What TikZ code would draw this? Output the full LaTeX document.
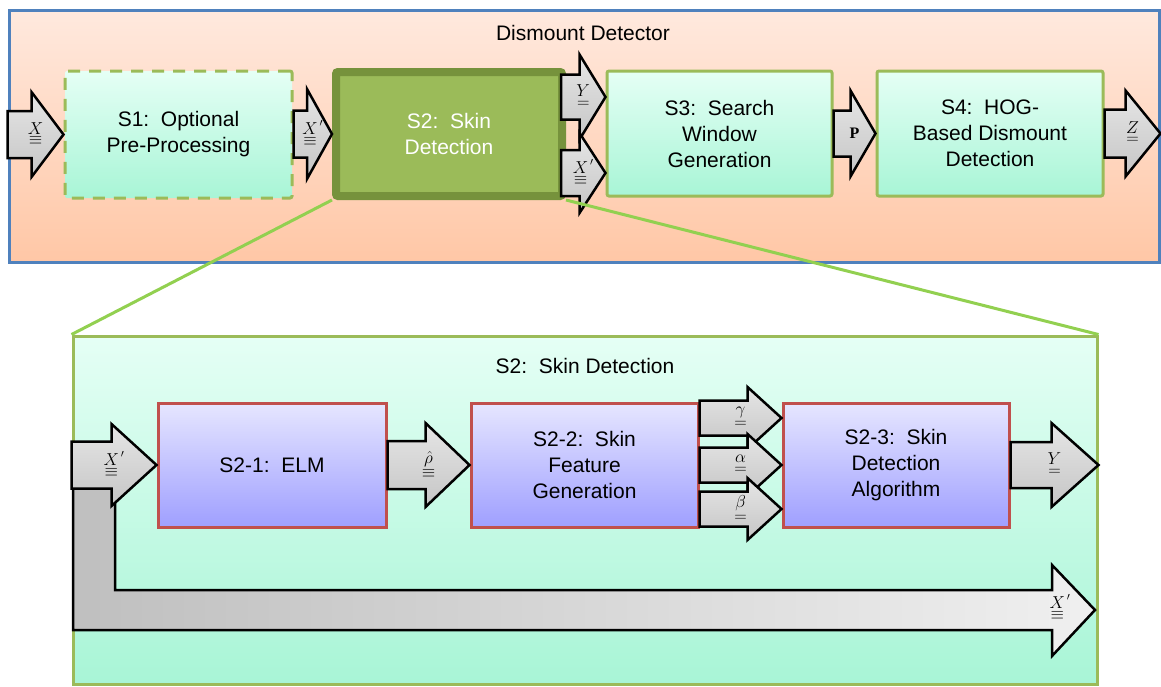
\documentclass[tikz,border=0pt]{standalone}
\usepackage{amsmath}
\usepackage{fontspec}
\setmainfont{Liberation Sans}
\newfontfamily\labelserif{Liberation Serif}
\usetikzlibrary{calc}

\definecolor{frameblue}{HTML}{4F81BD}
\definecolor{peachtop}{HTML}{FFE9DE}
\definecolor{peachbot}{HTML}{FFC7A6}
\definecolor{minttop}{HTML}{E5FFF5}
\definecolor{mintbot}{HTML}{A8F5D6}
\definecolor{stagegreen}{HTML}{9BBB59}
\definecolor{stageolive}{HTML}{76923C}
\definecolor{zoomgreen}{HTML}{92D050}
\definecolor{lavtop}{HTML}{E6E6FF}
\definecolor{lavbot}{HTML}{9F9FFF}
\definecolor{stagered}{HTML}{C0504D}

\newcommand{\tthree}[1]{\underset{\textstyle\equiv}{#1}}
\newcommand{\ttwo}[1]{\underset{\textstyle=}{#1}}
\newcommand{\xprime}{{\tthree{X}}^{\,\prime}}

\tikzstyle{frame}=[draw=frameblue, line width=3pt, top color=peachtop, bottom color=peachbot, inner sep=0pt]
\tikzstyle{panel}=[draw=stagegreen, line width=3pt, top color=minttop, bottom color=mintbot, inner sep=0pt]
\tikzstyle{title}=[font=\fontsize{21}{26}\selectfont, inner sep=0pt]
\tikzstyle{stage}=[%
	draw=stagegreen, line width=3pt, rounded corners=2pt,
	top color=minttop, bottom color=mintbot,
	align=center, inner sep=0pt, font=\fontsize{21}{26}\selectfont
]
\tikzstyle{skinstage}=[stage, draw=stageolive, line width=8pt, top color=stagegreen, bottom color=stagegreen, text=white]
\tikzstyle{substage}=[stage, draw=stagered, rounded corners=0pt, top color=lavtop, bottom color=lavbot]
\tikzstyle{barrow}=[draw=black, line width=2.5pt, top color=gray!20, bottom color=gray!45]
\tikzstyle{lshape}=[draw=black, line width=2.5pt, left color=gray!50, right color=gray!12]
\tikzstyle{arrlabel}=[font=\fontsize{16}{18}\selectfont, inner sep=0pt]
\tikzstyle{zoomline}=[draw=zoomgreen, line width=3pt]

% #1 start, #2 tip, #3 body half, #4 head half, #5 head length, #6 label
\newcommand{\blockarrow}[6]{%
	\draw[barrow] let \p1=(#1), \p2=(#2) in
		(\x1,\y2+#3pt) -- (\x2-#5pt,\y2+#3pt) -- (\x2-#5pt,\y2+#4pt) -- (\x2,\y2)
		-- (\x2-#5pt,\y2-#4pt) -- (\x2-#5pt,\y2-#3pt) -- (\x1,\y2-#3pt) -- cycle
		node[arrlabel] at (\x1/2+\x2/2,\y2) {#6};
}

\begin{document}
\begin{tikzpicture}[x=1pt, y=-1pt]
	\useasboundingbox (0,0) rectangle (1161,686);

	% Dismount detector
	\node[frame, minimum width=1150pt, minimum height=252pt] (detector) at (584,136) {};
	\node[title] (dettitle) at (583,33) {Dismount Detector};

	\node[stage, dash pattern=on 12pt off 9pt, minimum width=227pt, minimum height=127pt] (s1) at (178.5,134.5) {S1:\ \ Optional\\Pre-Processing};
	\node[skinstage, minimum width=226pt, minimum height=124pt] (s2) at (449,134) {S2:\ \ Skin\\Detection};
	\node[stage, minimum width=225pt, minimum height=125pt] (s3) at (719.5,133.5) {S3:\ \ Search\\Window\\Generation};
	\node[stage, minimum width=226pt, minimum height=125pt] (s4) at (990,133.5) {S4:\ \ HOG-\\Based Dismount\\Detection};

	\blockarrow{detector.west}{s1.west}{23.5}{42.5}{32}{$\tthree{X}$}
	\blockarrow{s1.east}{s2.west}{23.5}{45}{25}{$\xprime$}
	\blockarrow{[xshift=-5pt]s2.east}{[yshift=36.5pt]s3.west}{22.5}{42.5}{26}{$\ttwo{Y}$}
	\blockarrow{[xshift=-5pt]s2.east}{[yshift=-39.5pt]s3.west}{23}{40}{26}{$\xprime$}
	\blockarrow{s3.east}{s4.west}{23}{43}{25}{{\labelserif\bfseries P}}
	\blockarrow{s4.east}{s4.east -| detector.east}{24}{43}{35}{$\ttwo{Z}$}

	% Skin detection
	\node[panel, minimum width=1024pt, minimum height=348pt] (skin) at (585,510) {};
	\node[title] (skintitle) at (585,366) {S2:\ \ Skin Detection};

	\draw[zoomline] (s2.south west) -- (skin.north west);
	\draw[zoomline] (s2.south east) -- (skin.north east);

	\node[substage, minimum width=228pt, minimum height=124pt] (elm) at (272,465) {S2-1:\ \ ELM};
	\node[substage, minimum width=227pt, minimum height=124pt] (feat) at (584.5,465) {S2-2:\ \ Skin\\Feature\\Generation};
	\node[substage, minimum width=226pt, minimum height=124pt] (algo) at (896,465) {S2-3:\ \ Skin\\Detection\\Algorithm};

	% Bypass
	\coordinate (xend) at (1095,610);
	\draw[lshape] (73,488) -- (115,488) -- (115,590) -- (1052,590) -- (1052,565) -- (xend)
		-- (1052,656) -- (1052,630) -- (73,630) -- cycle;
	\node[arrlabel] (xlab) at (1060,608) {$\xprime$};

	\blockarrow{skin.west}{elm.west}{23.5}{41}{45}{$\xprime$}
	\blockarrow{elm.east}{feat.west}{24}{42}{44}{$\tthree{\hat{\rho}}$}
	\foreach \lab/\dy in {\gamma/47, \alpha/0, \beta/-44} {
		\blockarrow{feat.east}{[yshift=\dy pt]algo.west}{17.5}{31}{34}{$\ttwo{\lab}$}
	}
	\blockarrow{algo.east}{algo.east -| skin.east}{23}{42}{47}{$\ttwo{Y}$}

\end{tikzpicture}
\end{document}
